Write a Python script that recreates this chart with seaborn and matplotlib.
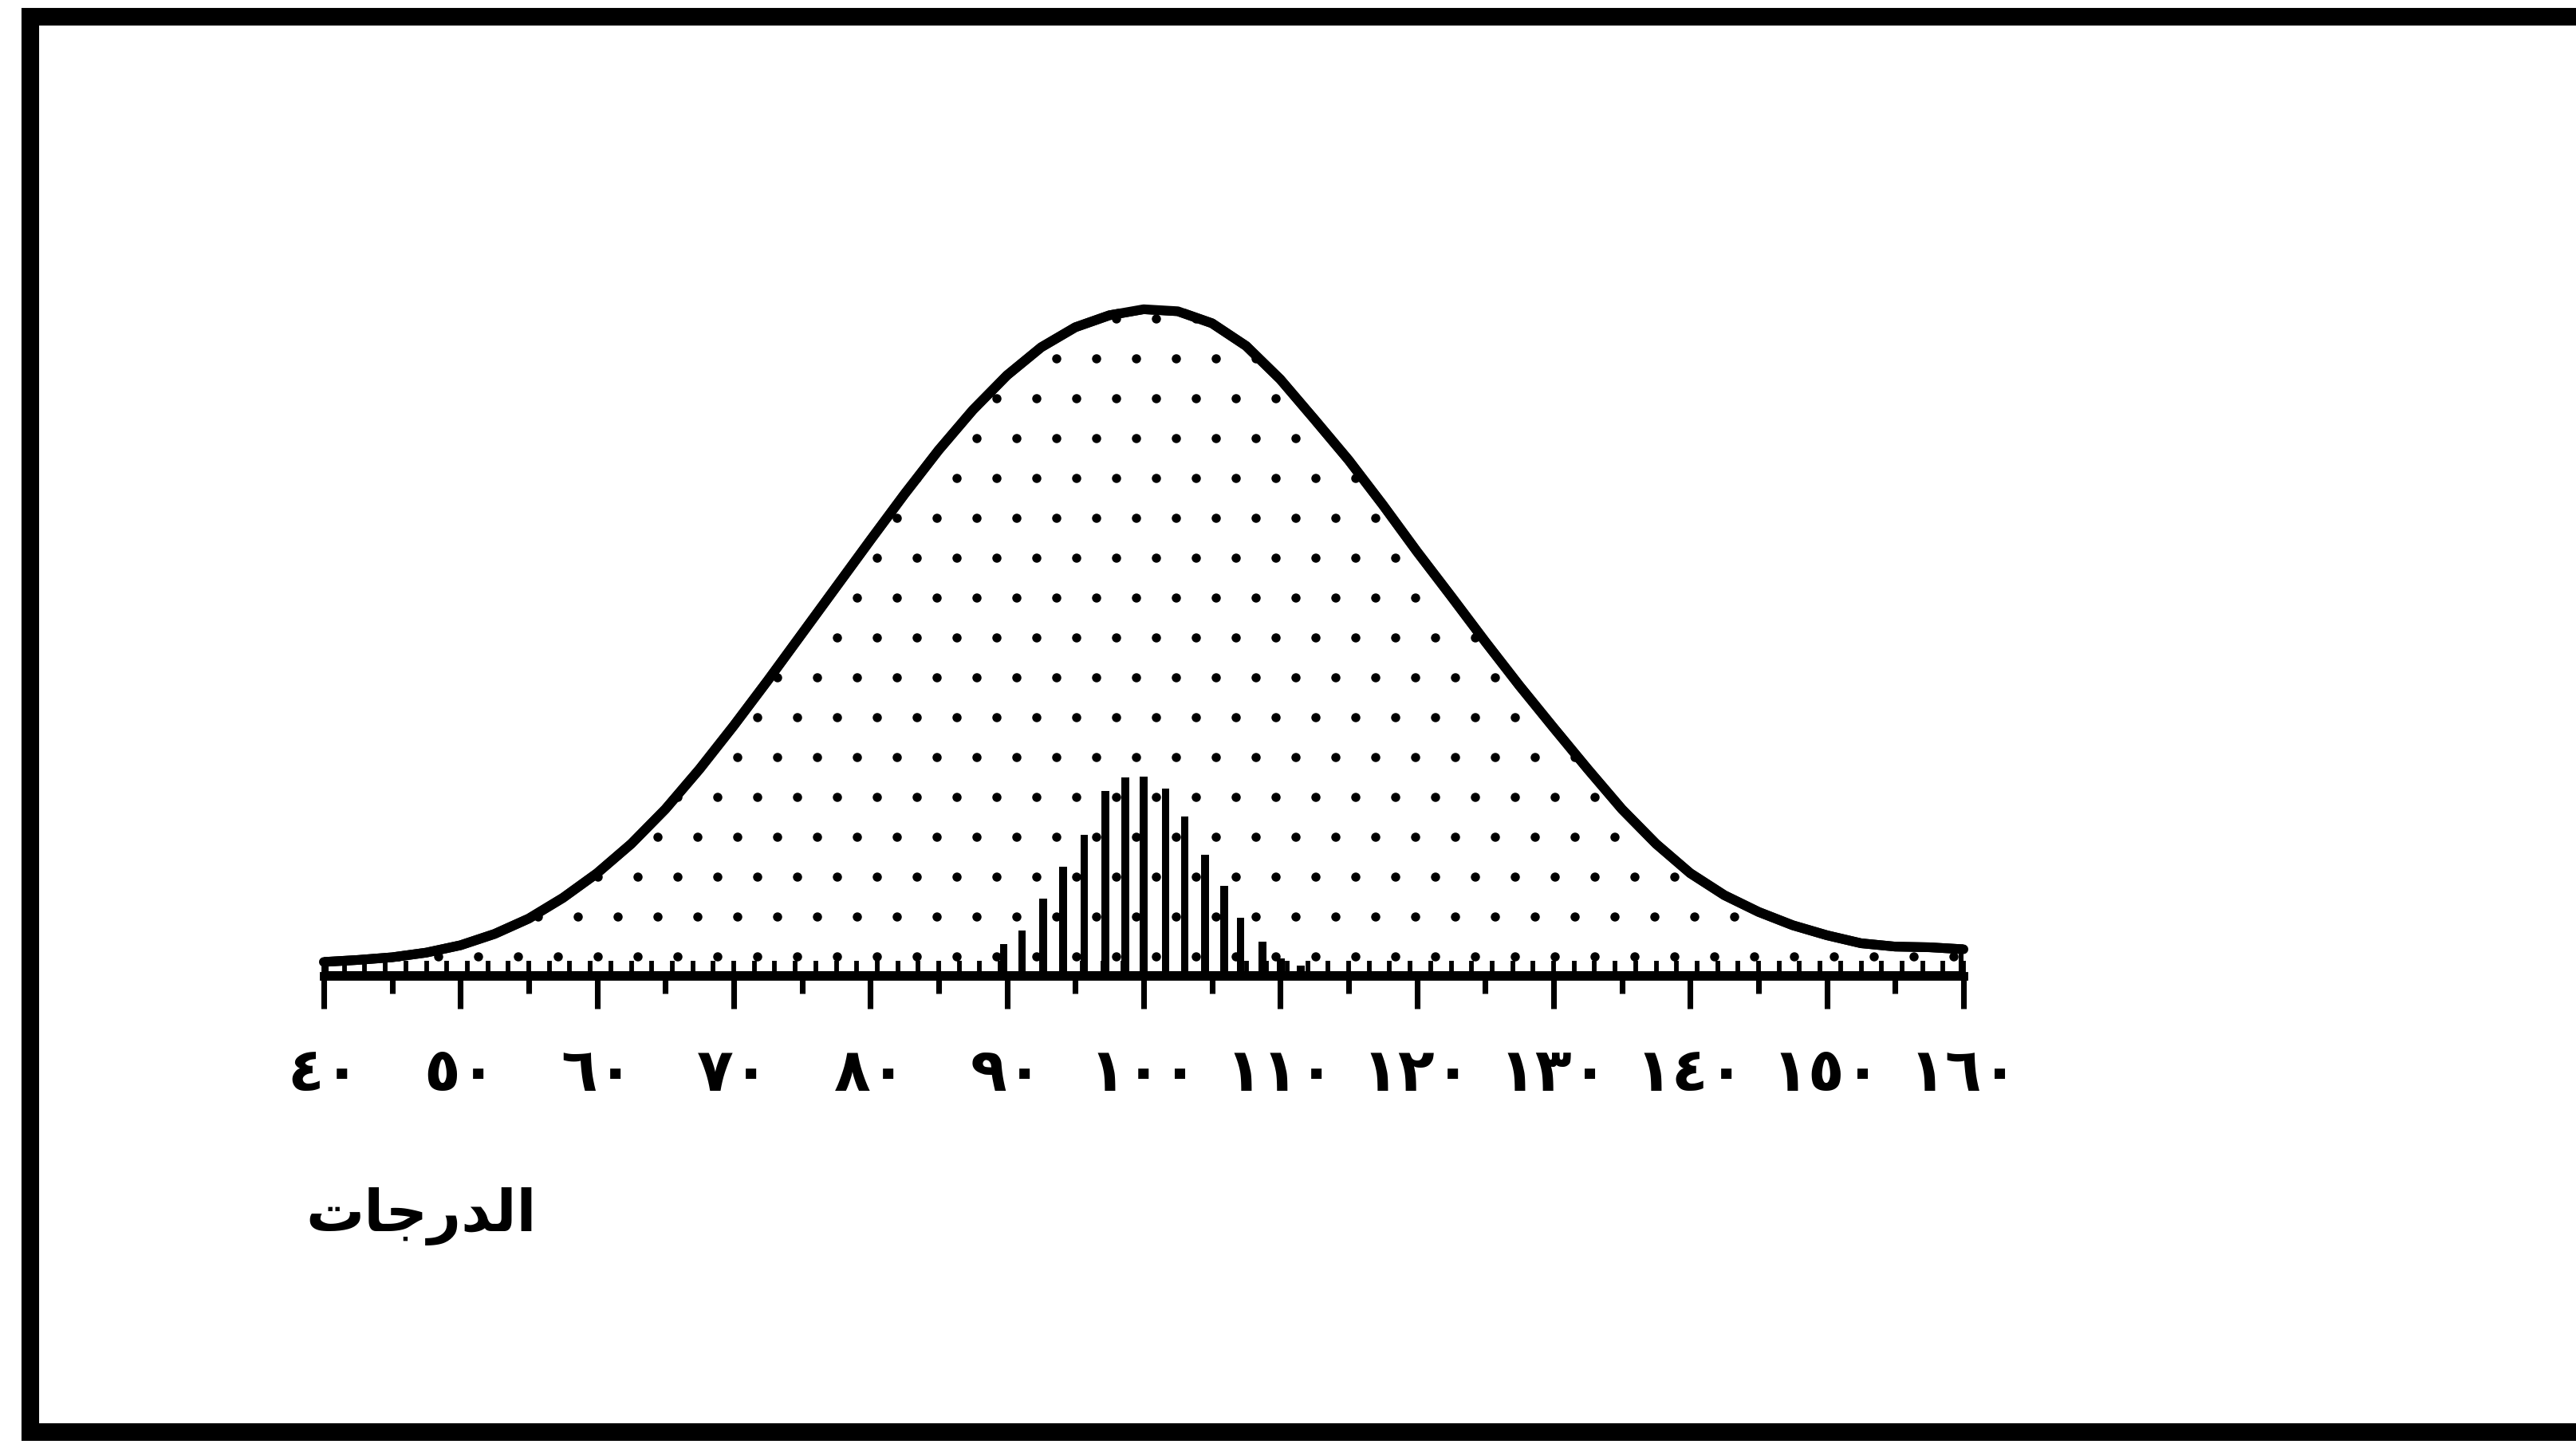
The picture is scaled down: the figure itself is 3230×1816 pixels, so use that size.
import numpy as np
import matplotlib
matplotlib.use('Agg')
import matplotlib.pyplot as plt
import seaborn as sns
from matplotlib.lines import Line2D

# scores (x) and curve height (peak = 100)
curve_x = [40, 42.5, 45, 47.5, 50, 52.5, 55, 57.5, 60, 62.5, 65, 67.5, 70,
           72.5, 75, 77.5, 80, 82.5, 85, 87.5, 90, 92.5, 95, 97.5, 100,
           102.5, 105, 107.5, 110, 112.5, 115, 117.5, 120, 122.5, 125, 127.5,
           130, 132.5, 135, 137.5, 140, 142.5, 145, 147.5, 150, 152.5, 155,
           157.5, 160]
curve_y = [2.1, 2.4, 2.8, 3.5, 4.6, 6.3, 8.6, 11.7, 15.4, 19.8, 25.0, 31.0, 37.5,
           44.3, 51.3, 58.3, 65.3, 72.2, 78.8, 84.8, 90.0, 94.2, 97.2, 99.0, 99.9,
           99.6, 97.8, 94.4, 89.4, 83.4, 77.3, 70.6, 63.6, 56.9, 50.1, 43.5,
           37.2, 31.0, 25.0, 19.8, 15.4, 12.1, 9.6, 7.6, 6.1, 4.9, 4.4,
           4.3, 4.0]

# vertical strokes in the middle of the curve
bar_x = [89.75, 91.1, 92.65, 94.1, 95.65, 97.2, 98.65, 100.0, 101.6, 103.0,
         104.5, 105.9, 107.1, 108.7, 110.05, 111.5]
bar_h = [4.8, 6.8, 11.6, 16.4, 21.1, 27.7, 29.7, 29.9, 28.1, 23.9,
         18.2, 13.5, 8.7, 5.1, 2.6, 1.6]

tick_values = [40, 50, 60, 70, 80, 90, 100, 110, 120, 130, 140, 150, 160]
tick_labels = ['٤٠', '٥٠', '٦٠', '٧٠', '٨٠', '٩٠', '١٠٠', '١١٠',
               '١٢٠', '١٣٠', '١٤٠', '١٥٠', '١٦٠']
x_title = 'الدرجات'

# matplotlib has no arabic shaping, so pick the joined forms by hand
ARABIC_FORMS = {
    'ا': ('\ufe8d', '\ufe8e', None, None),
    'ل': ('\ufedd', '\ufede', '\ufedf', '\ufee0'),
    'د': ('\ufea9', '\ufeaa', None, None),
    'ر': ('\ufead', '\ufeae', None, None),
    'ج': ('\ufe9d', '\ufe9e', '\ufe9f', '\ufea0'),
    'ت': ('\ufe95', '\ufe96', '\ufe97', '\ufe98'),
}


def shape_arabic(word):
    out = []
    for i, ch in enumerate(word):
        iso, fin, ini, med = ARABIC_FORMS[ch]
        joins_prev = i > 0 and ARABIC_FORMS[word[i - 1]][2] is not None
        joins_next = i < len(word) - 1 and ini is not None
        if joins_prev and joins_next:
            out.append(med)
        elif joins_prev:
            out.append(fin)
        elif joins_next:
            out.append(ini)
        else:
            out.append(iso)
    return ''.join(reversed(out))


sns.set_theme(style='white')
plt.rcParams['font.family'] = ['DejaVu Sans']
plt.rcParams['hatch.linewidth'] = 0.35
plt.rcParams['text.color'] = 'black'

W, H = 3230, 1816
fig = plt.figure(figsize=(W / 300, H / 300), dpi=300)
fig.patch.set_facecolor('white')
ax = fig.add_axes([406 / W, (H - 1224) / H, (2462 - 406) / W, 837 / H])

# stippled area under the curve
ax.fill_between(curve_x, curve_y, 0, facecolor='white', edgecolor='black',
                hatch='.', linewidth=2.9, joinstyle='round')
sns.lineplot(x=curve_x, y=curve_y, color='black', linewidth=2.9, ax=ax,
             clip_on=False, solid_joinstyle='round', solid_capstyle='round')
ax.bar(bar_x, bar_h, width=0.55, color='black', linewidth=0)

ax.set_xlim(40, 160)
ax.set_ylim(0, 100)
ax.set_xticks(tick_values)
ax.set_xticklabels(tick_labels, fontsize=18, fontweight='bold')
ax.set_xticks(np.arange(45, 160, 10), minor=True)
ax.tick_params(axis='x', which='major', direction='out', length=9.8, width=1.7,
               pad=11, bottom=True, color='black', labelcolor='black')
ax.tick_params(axis='x', which='minor', direction='out', length=5.3, width=1.7,
               bottom=True, color='black')
ax.set_yticks([])
ax.set_xlabel('')
ax.set_ylabel('')
for side in ['left', 'top', 'right']:
    ax.spines[side].set_visible(False)
ax.spines['bottom'].set_linewidth(2.6)
ax.spines['bottom'].set_color('black')
ax.patch.set_alpha(0)

# fine graduation marks standing up on the axis line
fine = ax.secondary_xaxis('bottom')
fine.set_zorder(5)
fine.set_xticks(np.arange(40, 160.1, 1.5))
fine.tick_params(axis='x', direction='in', length=4.6, width=1.4,
                 color='black', bottom=True, labelbottom=False)
fine.spines['bottom'].set_visible(False)

fig.text(528 / W, 1 - 1525 / H, shape_arabic(x_title), fontsize=17.5,
         fontweight='bold', ha='center', va='center', color='black')

# frame around the picture (right side runs off the edge)
fig.add_artist(Line2D([1.01, 37.5 / W, 37.5 / W, 1.01],
                      [1 - 21 / H, 1 - 21 / H, 20 / H, 20 / H],
                      transform=fig.transFigure, color='black', linewidth=5.3,
                      solid_joinstyle='miter'))

fig.savefig('out.png', dpi=300)
